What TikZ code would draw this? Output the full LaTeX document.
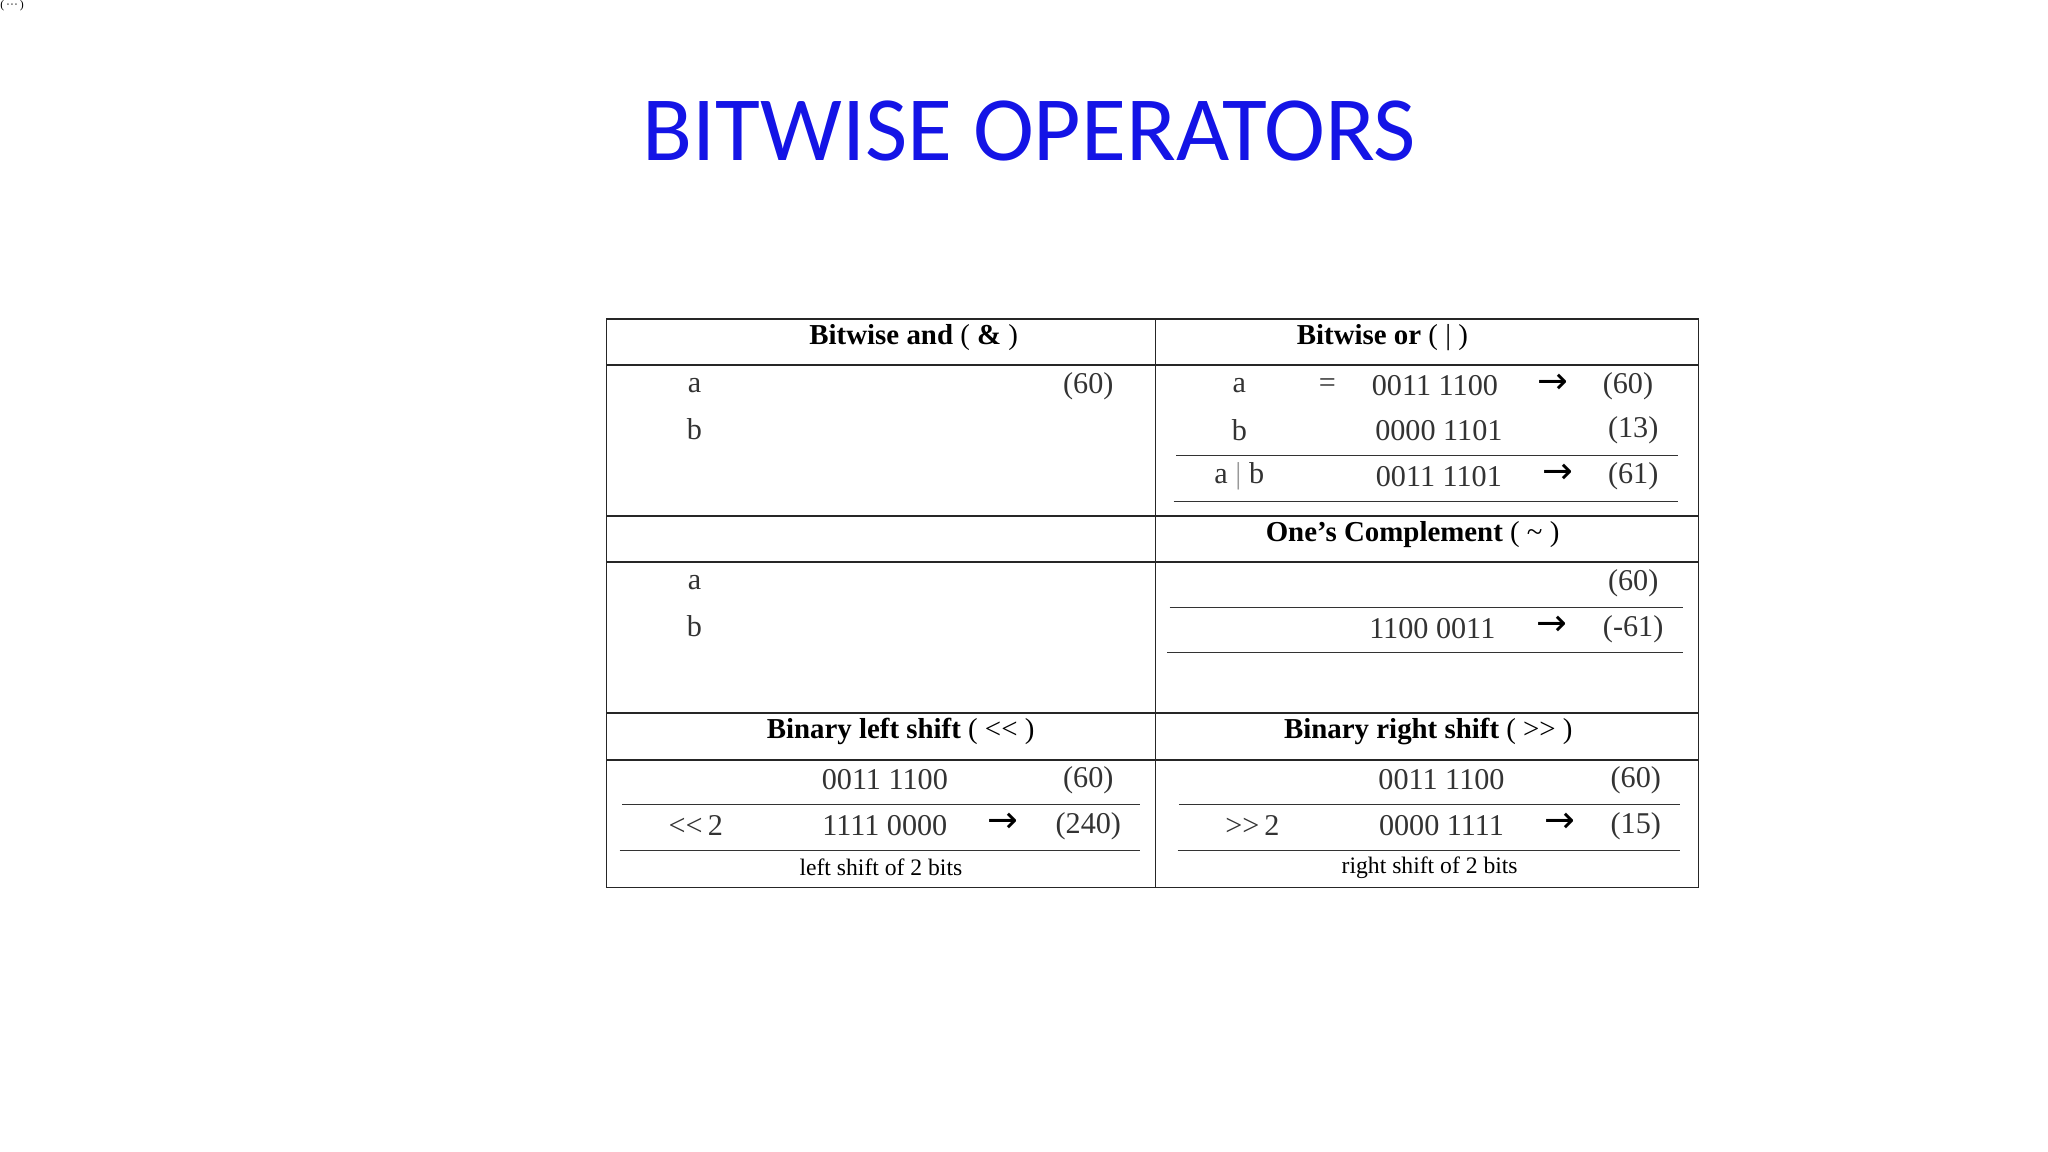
\documentclass[tikz,border=0pt]{standalone}
\usepackage{fontspec}
\setmainfont{Liberation Serif}
\newfontfamily\titlefont{Carlito}
\newfontfamily\arrfont{DejaVu Sans}
\newcommand\lltt{<\kern0pt<}
\newcommand\ggtt{>\kern0pt>}
\begin{document}
\begin{tikzpicture}[x=1pt,y=-1pt,
  tx/.style={font=\fontsize{23}{25}\selectfont, text=black!80, inner sep=0pt, anchor=center},
  hd/.style={font=\fontsize{22}{25}\selectfont\bfseries, inner sep=0pt},
  sm/.style={font=\fontsize{18}{20}\selectfont, inner sep=0pt},
  ar/.style={font=\arrfont\fontsize{28}{30}\selectfont, inner sep=0pt},
  grid/.style={draw=black!85, line width=1pt},
  rule/.style={draw=black!80, line width=1pt}]
\useasboundingbox (0,0) rectangle (1560,877.5);
\node[font=\titlefont\fontsize{70}{74}\selectfont, text={rgb,255:red,20;green,20;blue,230}, inner sep=0pt] (title) at (784,100) {BITWISE OPERATORS};
\node[font=\fontsize{9}{10}\selectfont, inner sep=0pt, anchor=north west] (corner) at (0,0) {(\,···\,)};
% table grid
\draw[grid] (462,243) rectangle (1294,676);
\draw[grid] (880,243) -- (880,676);
\foreach \y in {278,393,428,543,579} \draw[grid] (462,\y) -- (1294,\y);
% headers
\node[hd] (h1) at (696,257) {Bitwise and {\mdseries (} \& {\mdseries )}};
\node[hd] (h2) at (1053,257) {Bitwise or {\mdseries ( | )}};
\node[hd] (h3) at (1076,407) {One’s Complement {\mdseries ( \textasciitilde\ )}};
\node[hd] (h4) at (686,557) {Binary left shift {\mdseries ( \lltt\ )}};
\node[hd] (h5) at (1088,557) {Binary right shift {\mdseries ( \ggtt\ )}};
% and
\node[tx] (la) at (529,294) {a};
\node[tx] (l60) at (829,294) {(60)};
\node[tx] (lb) at (529,327) {b};
\node[tx] (la2) at (529,444) {a};
\node[tx] (lb2) at (529,477) {b};
% or
\node[tx] (oa) at (944,294) {a};
\node[tx] (oeq) at (1011,294) {=};
\node[tx] (ov1) at (1093,294) {0011 1100};
\node[ar] (oar1) at (1183,292) {→};
\node[tx] (or1) at (1240,294) {(60)};
\node[tx] (ob) at (944,328) {b};
\node[tx] (ov2) at (1096,328) {0000 1101};
\node[tx] (or2) at (1244,328) {(13)};
\coordinate (ol1a) at (896,347); \coordinate (ol1b) at (1278,347);
\draw[rule] (ol1a) -- (ol1b);
\node[tx] (oab) at (944,363) {a {\color{black!40}|} b};
\node[tx] (ov3) at (1096,363) {0011 1101};
\node[ar] (oar2) at (1187,361) {→};
\node[tx] (or3) at (1244,363) {(61)};
\coordinate (ol2a) at (894,382); \coordinate (ol2b) at (1278,382);
\draw[rule] (ol2a) -- (ol2b);
% complement
\node[tx] (c1) at (1244,444) {(60)};
\coordinate (cl1a) at (891,463); \coordinate (cl1b) at (1282,463);
\draw[rule] (cl1a) -- (cl1b);
\node[tx] (cv) at (1091,479) {1100 0011};
\node[ar] (car) at (1182,477) {→};
\node[tx] (c2) at (1244,479) {(-61)};
\coordinate (cl2a) at (889,497); \coordinate (cl2b) at (1282,497);
\draw[rule] (cl2a) -- (cl2b);
% left shift
\node[tx] (lsv1) at (674,594) {0011 1100};
\node[tx] (lsr1) at (829,594) {(60)};
\coordinate (lsl1a) at (474,613); \coordinate (lsl1b) at (868,613);
\draw[rule] (lsl1a) -- (lsl1b);
\node[tx] (lsop) at (530,629) {\lltt\,2};
\node[tx] (lsv2) at (674,629) {1111 0000};
\node[ar] (lsar) at (764,627) {→};
\node[tx] (lsr2) at (829,629) {(240)};
\coordinate (lsl2a) at (472,648); \coordinate (lsl2b) at (868,648);
\draw[rule] (lsl2a) -- (lsl2b);
\node[sm] (lsn) at (671,661) {left shift of 2 bits};
% right shift
\node[tx] (rsv1) at (1098,594) {0011 1100};
\node[tx] (rsr1) at (1246,594) {(60)};
\coordinate (rsl1a) at (898,613); \coordinate (rsl1b) at (1280,613);
\draw[rule] (rsl1a) -- (rsl1b);
\node[tx] (rsop) at (954,629) {\ggtt\,2};
\node[tx] (rsv2) at (1098,629) {0000 1111};
\node[ar] (rsar) at (1188,627) {→};
\node[tx] (rsr2) at (1246,629) {(15)};
\coordinate (rsl2a) at (897,648); \coordinate (rsl2b) at (1280,648);
\draw[rule] (rsl2a) -- (rsl2b);
\node[sm] (rsn) at (1089,661) {right shift of 2 bits};
\end{tikzpicture}
\end{document}
